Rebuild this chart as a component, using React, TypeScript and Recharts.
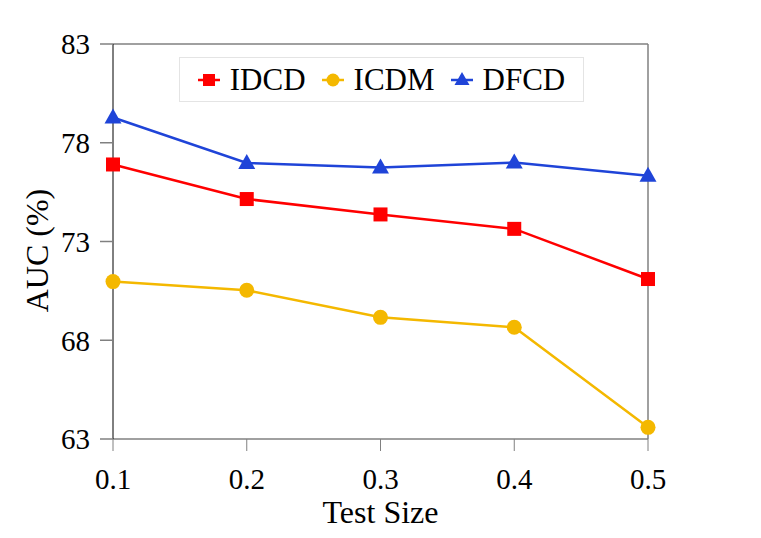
import React from "react";
import {
  LineChart,
  Line,
  XAxis,
  YAxis,
  ReferenceLine,
  Label,
} from "recharts";

const testSizes = [0.1, 0.2, 0.3, 0.4, 0.5];
const idcd = [76.9, 75.15, 74.37, 73.64, 71.1];
const icdm = [70.97, 70.53, 69.16, 68.66, 63.59];
const dfcd = [79.28, 76.98, 76.75, 77.0, 76.33];
const yTicks = [63, 68, 73, 78, 83];

const data = testSizes.map((t, i) => ({
  size: t,
  IDCD: idcd[i],
  ICDM: icdm[i],
  DFCD: dfcd[i],
}));

const FONT = '"Liberation Serif", "Times New Roman", serif';
const RED = "#ff0000";
const GOLD = "#f4b800";
const BLUE = "#1f44d8";
const GRAY = "#808080";

const SquareDot = ({ cx, cy }: any) => (
  <rect x={cx - 7} y={cy - 7} width={14} height={14} fill={RED} />
);
const CircleDot = ({ cx, cy }: any) => (
  <circle cx={cx} cy={cy} r={7.5} fill={GOLD} />
);
const TriangleDot = ({ cx, cy }: any) => (
  <polygon
    points={`${cx},${cy - 9} ${cx - 8.5},${cy + 6} ${cx + 8.5},${cy + 6}`}
    fill={BLUE}
  />
);

const legendItems = [
  { name: "IDCD", color: RED, shape: "square" },
  { name: "ICDM", color: GOLD, shape: "circle" },
  { name: "DFCD", color: BLUE, shape: "triangle" },
];

const LegendIcon = ({ color, shape }: any) => (
  <svg width={22} height={20} style={{ marginRight: 10 }}>
    <line x1={0} y1={10} x2={22} y2={10} stroke={color} strokeWidth={2.5} />
    {shape === "square" && <rect x={5} y={4} width={12} height={12} fill={color} />}
    {shape === "circle" && <circle cx={11} cy={10} r={6.5} fill={color} />}
    {shape === "triangle" && (
      <polygon points="11,2 3.5,15 18.5,15" fill={color} />
    )}
  </svg>
);

const ChartLegend = () => (
  <div
    style={{
      position: "absolute",
      left: 179,
      top: 57,
      width: 405,
      height: 45,
      border: "1.5px solid #e4e4e4",
      boxSizing: "border-box",
      display: "flex",
      alignItems: "center",
      justifyContent: "center",
      fontFamily: FONT,
      fontSize: 31,
      color: "#000",
      background: "#fff",
    }}
  >
    {legendItems.map((it, i) => (
      <div
        key={it.name}
        style={{ display: "flex", alignItems: "center", marginLeft: i ? 16 : 0 }}
      >
        <LegendIcon color={it.color} shape={it.shape} />
        <span>{it.name}</span>
      </div>
    ))}
  </div>
);

export default function App() {
  return (
    <div
      style={{
        position: "absolute",
        left: 0,
        top: 0,
        width: 761,
        height: 538,
        background: "#fff",
      }}
    >
      <LineChart
        width={761}
        height={538}
        data={data}
        margin={{ top: 44, right: 113, left: 53, bottom: 39 }}
      >
        <XAxis
          dataKey="size"
          type="number"
          domain={[0.1, 0.5]}
          ticks={testSizes}
          tickFormatter={(v: number) => v.toFixed(1)}
          height={60}
          tickSize={12}
          tickMargin={17}
          axisLine={{ stroke: GRAY, strokeWidth: 1.5 }}
          tickLine={{ stroke: GRAY, strokeWidth: 1 }}
          tick={{ fill: "#000", fontFamily: FONT, fontSize: 29 }}
        >
          <Label
            content={({ viewBox }: any) => (
              <text
                x={viewBox.x + viewBox.width / 2}
                y={viewBox.y + 84}
                textAnchor="middle"
                fontFamily={FONT}
                fontSize={32}
                fill="#000"
              >
                Test Size
              </text>
            )}
          />
        </XAxis>
        <YAxis
          type="number"
          domain={[63, 83]}
          ticks={yTicks}
          width={60}
          tickSize={13}
          tickMargin={10}
          axisLine={{ stroke: "#000", strokeWidth: 1 }}
          tickLine={{ stroke: GRAY, strokeWidth: 1.5 }}
          tick={{ fill: "#000", fontFamily: FONT, fontSize: 29 }}
        >
          <Label
            content={({ viewBox }: any) => (
              <text
                x={37}
                y={viewBox.y + viewBox.height / 2 + 9}
                textAnchor="middle"
                dominantBaseline="central"
                transform={`rotate(-90, 37, ${viewBox.y + viewBox.height / 2 + 9})`}
                fontFamily={FONT}
                fontSize={32}
                fill="#000"
              >
                AUC (%)
              </text>
            )}
          />
        </YAxis>
        <ReferenceLine y={83} stroke={GRAY} strokeWidth={1.5} />
        <ReferenceLine x={0.5} stroke={GRAY} strokeWidth={1.5} />
        <Line
          dataKey="ICDM"
          stroke={GOLD}
          strokeWidth={2.5}
          dot={<CircleDot />}
          isAnimationActive={false}
        />
        <Line
          dataKey="IDCD"
          stroke={RED}
          strokeWidth={2.5}
          dot={<SquareDot />}
          isAnimationActive={false}
        />
        <Line
          dataKey="DFCD"
          stroke={BLUE}
          strokeWidth={2.5}
          dot={<TriangleDot />}
          isAnimationActive={false}
        />
      </LineChart>
      <ChartLegend />
    </div>
  );
}
